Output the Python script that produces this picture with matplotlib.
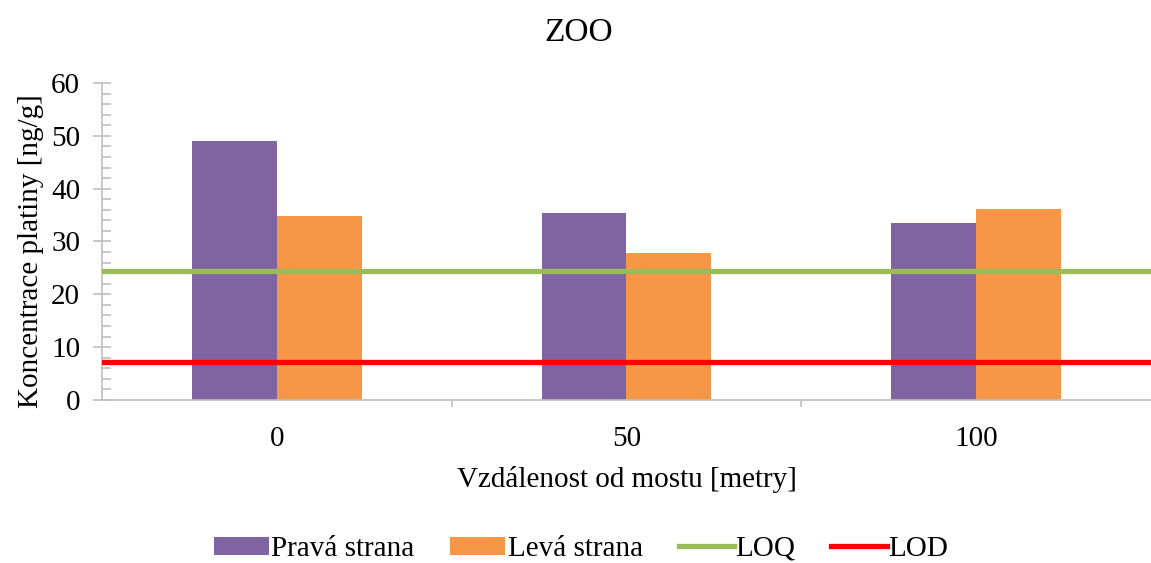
import matplotlib
matplotlib.use("Agg")
import matplotlib.pyplot as plt
from matplotlib.ticker import MultipleLocator, FixedLocator
import numpy as np

plt.rcParams['font.family'] = ['Liberation Serif', 'DejaVu Serif']

# Data
categories = ["0", "50", "100"]
prava_strana = [49.0, 35.3, 33.5]
leva_strana = [34.9, 27.9, 36.2]
loq = 24.5
lod = 7.2

purple = "#8064A2"
orange = "#F79646"
green = "#9BBB59"
red = "#FF0000"
axis_gray = "#BFBFBF"

fig = plt.figure(figsize=(11.51, 5.63), dpi=100)
ax = fig.add_axes([0.0886, 0.2895, 0.9114, 0.5631])

x = np.arange(len(categories))
w = 0.243
b1 = ax.bar(x - w / 2, prava_strana, width=w, color=purple, label="Pravá strana", zorder=2)
b2 = ax.bar(x + w / 2, leva_strana, width=w, color=orange, label="Levá strana", zorder=2)
l1 = ax.axhline(loq, color=green, lw=3.8, label="LOQ", zorder=3)
l2 = ax.axhline(lod, color=red, lw=3.8, label="LOD", zorder=3)

ax.set_xlim(-0.5, 2.5)
ax.set_ylim(0, 60)

for s in ("top", "right"):
    ax.spines[s].set_visible(False)
for s in ("left", "bottom"):
    ax.spines[s].set_color(axis_gray)
    ax.spines[s].set_linewidth(1.2)

ax.yaxis.set_major_locator(MultipleLocator(10))
ax.yaxis.set_minor_locator(MultipleLocator(2))
ax.tick_params(axis="y", which="major", direction="inout", length=12.5, width=1.2,
               color=axis_gray, labelsize=21, pad=9.5)
ax.tick_params(axis="y", which="minor", direction="in", length=6.5, width=1.2,
               color=axis_gray)

ax.set_xticks(x)
ax.set_xticklabels(categories)
ax.xaxis.set_minor_locator(FixedLocator([0.5, 1.5]))
ax.tick_params(axis="x", which="major", length=0, labelsize=21, pad=19)
ax.tick_params(axis="x", which="minor", direction="out", length=5, width=1.2,
               color=axis_gray)

ax.set_ylabel("Koncentrace platiny [ng/g]", fontsize=21, labelpad=5)
ax.yaxis.label.set_y(0.47)
ax.set_xlabel("Vzdálenost od mostu [metry]", fontsize=21, labelpad=10)
fig.text(0.503, 0.942, "ZOO", fontsize=24, ha="center", va="center")

fig.legend([b1, b2, l1, l2], ["Pravá strana", "Levá strana", "LOQ", "LOD"],
           loc="center", bbox_to_anchor=(0.505, 0.025),
           ncol=4, frameon=False, fontsize=21, handlelength=1.89,
           handleheight=0.58, handletextpad=0.07, columnspacing=1.23)

fig.savefig("out.png", dpi=100)
